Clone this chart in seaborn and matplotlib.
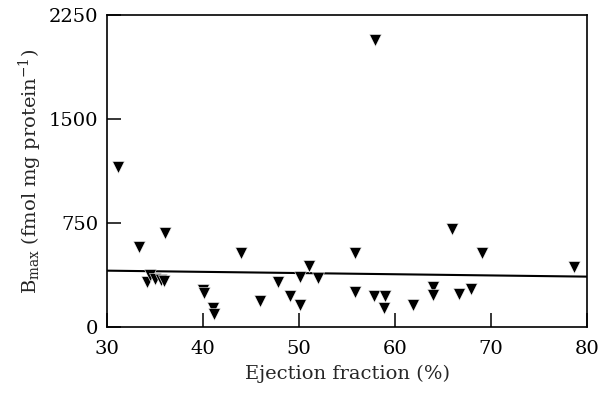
import matplotlib
matplotlib.use("Agg")
import matplotlib.pyplot as plt
import seaborn as sns
import pandas as pd
import numpy as np

# Data
ejection_fraction = [31.2, 33.3, 36.0, 34.2, 34.5, 35.0, 35.6, 35.9, 40.0, 40.1,
                     41.0, 41.1, 44.0, 45.9, 47.8, 49.1, 50.1, 50.1, 51.0, 52.0,
                     55.8, 55.8, 57.9, 57.8, 59.0, 58.8, 61.9, 63.9, 63.9, 65.9,
                     66.7, 67.9, 69.0, 78.6]
bmax = [1158, 582, 678, 330, 378, 350, 345, 335, 270, 245,
        140, 100, 534, 192, 330, 230, 360, 165, 440, 358,
        534, 258, 2070, 228, 228, 140, 165, 292, 236, 709,
        241, 275, 534, 438]

fit_x = [30, 80]
fit_y = [409, 366]

x_ticks = [30, 40, 50, 60, 70, 80]
y_ticks = [0, 750, 1500, 2250]

df = pd.DataFrame({"ef": ejection_fraction, "bmax": bmax})
fit = pd.DataFrame({"ef": fit_x, "bmax": fit_y})

sns.set_theme(style="ticks")
plt.rcParams["font.family"] = ["DejaVu Serif"]
plt.rcParams["mathtext.fontset"] = "dejavuserif"

fig = plt.figure(figsize=(6.11, 3.95), dpi=100)
ax = fig.add_axes([0.175, 0.171, 0.786, 0.791])

sns.lineplot(data=fit, x="ef", y="bmax", ax=ax, color="black", linewidth=1.5)
sns.scatterplot(data=df, x="ef", y="bmax", ax=ax, marker="v", s=75,
                color="black", edgecolor="white", linewidth=0.4, zorder=3)

ax.set_xlim(30, 80)
ax.set_ylim(0, 2250)
ax.set_xticks(x_ticks)
ax.set_yticks(y_ticks)
ax.set_xticklabels([str(v) for v in x_ticks])
ax.set_yticklabels([str(v) for v in y_ticks])
ax.tick_params(direction="in", length=10, width=1.1, labelsize=14,
               colors="black")
ax.tick_params(axis="x", pad=9)
ax.tick_params(axis="y", pad=6)
for sp in ax.spines.values():
    sp.set_linewidth(1.2)
    sp.set_color("black")

ax.set_xlabel("Ejection fraction (%)", fontsize=14, labelpad=5)
ax.set_ylabel(r"B$_{\mathrm{max}}$ (fmol mg protein$^{-1}$)", fontsize=14, labelpad=4)

fig.savefig("out.png", dpi=100)
